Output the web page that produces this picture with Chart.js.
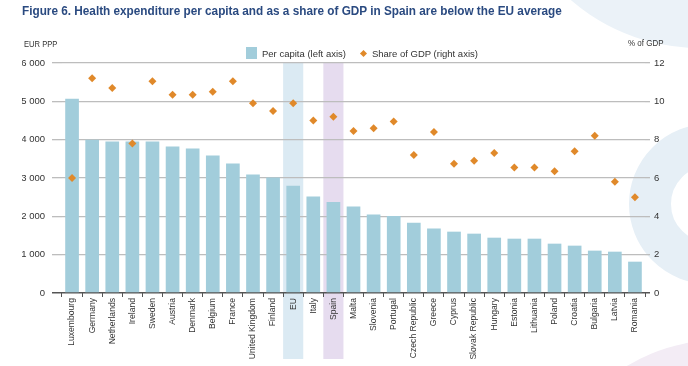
<!DOCTYPE html>
<html>
<head>
<meta charset="utf-8">
<script src="https://cdn.jsdelivr.net/npm/chart.js@4.4.1/dist/chart.umd.min.js"></script>
<style>
  html, body { margin: 0; padding: 0; background: #fff; }
  #wrap { position: relative; width: 688px; height: 366px; overflow: hidden; }
  .deco { position: absolute; border-radius: 50%; box-sizing: border-box; }
  #decoTop { left: 502px; top: -348px; width: 396px; height: 396px; background: #ebf2f8; }
  #decoRing { left: 629px; top: 124px; width: 160px; height: 160px; border: 42px solid #e6eff6; }
  #decoPurple { left: 540px; top: 340px; width: 360px; height: 360px; background: #f3ecf5; }
  #chartBox { position: absolute; left: 0; top: 0; width: 688px; height: 366px; }
  .txt { position: absolute; white-space: nowrap; color: #333; }
  #title { left: 22px; top: 3px; font: bold 13px "Liberation Sans", sans-serif; color: #2a4a80;
    transform: scaleX(0.905); transform-origin: 0 0; }
  #unitLeft { left: 24px; top: 38px; font: 9.5px "Liberation Sans", sans-serif;
    transform: scaleX(0.8); transform-origin: 0 0; }
  #unitRight { left: 628px; top: 37px; font: 9.5px "Liberation Sans", sans-serif;
    transform: scaleX(0.84); transform-origin: 0 0; }
  #legend { position: absolute; left: 246px; top: 47px; display: flex; align-items: center; font: 9.5px "Liberation Sans", sans-serif; color: #333; }
  .lgBox { width: 11px; height: 12px; background: #a2cddb; margin-right: 5px; }
  .lgDiamond { width: 5px; height: 5px; background: #e0892a; transform: rotate(45deg); margin: 0 6px 0 15px; }
</style>
</head>
<body>
<div id="wrap">
  <div class="deco" id="decoTop"></div>
  <div class="deco" id="decoRing"></div>
  <div class="deco" id="decoPurple"></div>
  <div id="chartBox"><canvas id="chart" width="688" height="366"></canvas></div>
  <div class="txt" id="title">Figure 6. Health expenditure per capita and as a share of GDP in Spain are below the EU average</div>
  <div class="txt" id="unitLeft">EUR PPP</div>
  <div class="txt" id="unitRight">% of GDP</div>
  <div id="legend">
    <div class="lgBox"></div><span>Per capita (left axis)</span>
    <div class="lgDiamond"></div><span>Share of GDP (right axis)</span>
  </div>
</div>
<script>
// --- Data ---
const COUNTRIES = ['Luxembourg', 'Germany', 'Netherlands', 'Ireland', 'Sweden', 'Austria', 'Denmark', 'Belgium', 'France',
  'United Kingdom', 'Finland', 'EU', 'Italy', 'Spain', 'Malta', 'Slovenia', 'Portugal', 'Czech Republic', 'Greece',
  'Cyprus', 'Slovak Republic', 'Hungary', 'Estonia', 'Lithuania', 'Poland', 'Croatia', 'Bulgaria', 'Latvia', 'Romania'];

// EUR PPP per capita (left axis)
const PER_CAPITA = [5070, 4000, 3950, 3950, 3950, 3820, 3770, 3590, 3380,
  3090, 3010, 2800, 2515, 2375, 2255, 2045, 2010, 1835, 1680,
  1600, 1548, 1443, 1417, 1417, 1287, 1235, 1105, 1078, 817];

// % of GDP (right axis)
const SHARE_GDP = [6.0, 11.2, 10.7, 7.8, 11.05, 10.35, 10.35, 10.5, 11.05,
  9.9, 9.5, 9.9, 9.0, 9.2, 8.45, 8.6, 8.95, 7.2, 8.4,
  6.75, 6.9, 7.3, 6.55, 6.55, 6.35, 7.4, 8.2, 5.8, 5.0];

const LEFT_TICKS = [0, 1000, 2000, 3000, 4000, 5000, 6000];
const RIGHT_TICKS = [0, 2, 4, 6, 8, 10, 12];

// highlighted columns
const HIGHLIGHTS = { 'EU': '#dbeaf3', 'Spain': '#e6dcef' };

function fmtThousands(v) {
  return String(v).replace(/\B(?=(\d{3})+(?!\d))/g, ' ');
}

function gridColor(ctx) {
  return ctx.tick && ctx.tick.value === 0 ? '#555' : '#bdbdbd';
}

const bandPlugin = {
  id: 'bands',
  beforeDraw(chart) {
    const x = chart.scales.x;
    const area = chart.chartArea;
    const ctx = chart.ctx;
    const w = (x.right - x.left) / COUNTRIES.length;
    ctx.save();
    Object.entries(HIGHLIGHTS).forEach(([name, color]) => {
      const cx = x.getPixelForValue(COUNTRIES.indexOf(name));
      ctx.fillStyle = color;
      ctx.fillRect(cx - w / 2, area.top, w, 359 - area.top);
    });
    ctx.restore();
  }
};

new Chart(document.getElementById('chart'), {
  data: {
    labels: COUNTRIES,
    datasets: [
      {
        type: 'line',
        label: 'Share of GDP (right axis)',
        data: SHARE_GDP,
        yAxisID: 'y1',
        showLine: false,
        pointStyle: 'rectRot',
        pointRadius: 4,
        pointBorderWidth: 0,
        pointBackgroundColor: '#e0892a',
        order: 0
      },
      {
        type: 'bar',
        label: 'Per capita (left axis)',
        data: PER_CAPITA,
        yAxisID: 'y',
        backgroundColor: '#a2cddb',
        categoryPercentage: 1,
        barPercentage: 0.68,
        order: 1
      }
    ]
  },
  options: {
    responsive: false,
    animation: false,
    layout: { padding: { left: 22, right: 23, top: 63, bottom: 3 } },
    plugins: { legend: { display: false }, tooltip: { enabled: false } },
    scales: {
      x: {
        offset: true,
        border: { display: false },
        grid: { offset: true, drawOnChartArea: false, drawTicks: true, tickLength: 4, color: '#555', lineWidth: 1 },
        ticks: {
          autoSkip: false, maxRotation: 90, minRotation: 90, padding: 1,
          color: '#333', font: { family: '"Liberation Sans", sans-serif', size: 8.6 }
        },
        afterFit: s => { s.height = 70; }
      },
      y: {
        position: 'left',
        min: 0, max: 6000,
        afterBuildTicks: s => { s.ticks = LEFT_TICKS.map(v => ({ value: v })); },
        border: { display: false },
        grid: { color: gridColor, lineWidth: c => (c.tick && c.tick.value === 0 ? 1.5 : 1.3), tickLength: 10 },
        ticks: {
          padding: 7, color: '#333', callback: v => fmtThousands(v),
          font: { family: '"Liberation Sans", sans-serif', size: 9.5 }
        },
        afterFit: s => { s.width = 40; }
      },
      y1: {
        position: 'right',
        min: 0, max: 12,
        afterBuildTicks: s => { s.ticks = RIGHT_TICKS.map(v => ({ value: v })); },
        border: { display: false },
        grid: { drawOnChartArea: false, color: gridColor, lineWidth: c => (c.tick && c.tick.value === 0 ? 1.5 : 1.3), tickLength: 5 },
        ticks: {
          padding: 4, color: '#333',
          font: { family: '"Liberation Sans", sans-serif', size: 9.5 }
        },
        afterFit: s => { s.width = 20; }
      }
    }
  },
  plugins: [bandPlugin]
});
</script>
</body>
</html>
